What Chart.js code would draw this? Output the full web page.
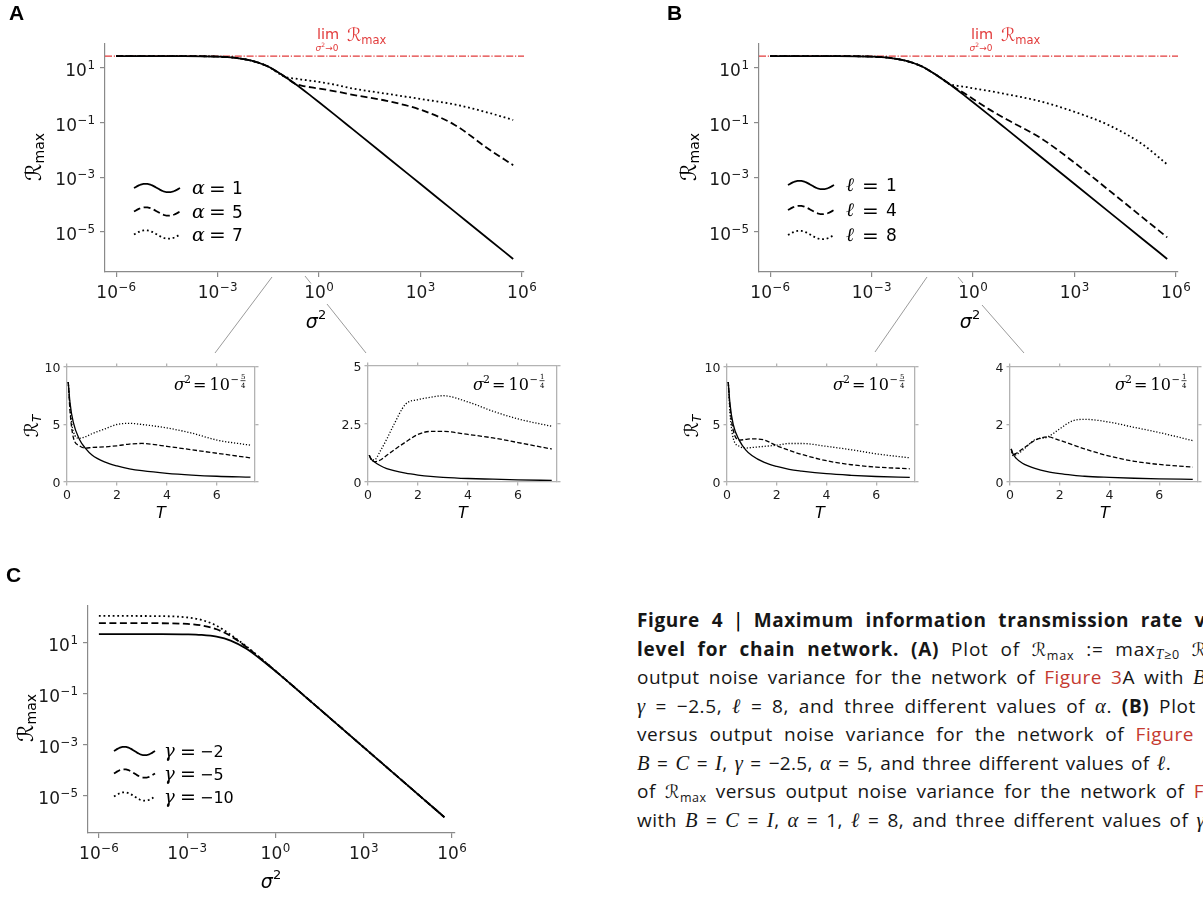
<!DOCTYPE html>
<html>
<head>
<meta charset="utf-8">
<script src="https://cdn.jsdelivr.net/npm/chart.js@4.4.1/dist/chart.umd.min.js"></script>
<style>
  html, body { margin: 0; padding: 0; background: #fff; }
  body { width: 1203px; height: 897px; overflow: hidden; position: relative; }
  canvas.layer { position: absolute; left: 0; top: 0; }
  #cap { position: absolute; left: 637px; top: 606px; font-family: "Open Sans", sans-serif; font-size: 19px; color: #161616; }
  #cap .row { height: 28.55px; line-height: 28.55px; white-space: nowrap; }
  #cap .ln { display: inline-block; white-space: nowrap; }
  #cap b { font-weight: 700; }
  #cap .r { color: #c53a30; }
  #cap i, #cap .g { font-family: "Liberation Serif", serif; font-style: italic; font-size: 1.08em; }
  #cap .m { font-family: "DejaVu Sans", sans-serif; font-size: 0.95em; }
  #cap sub { font-size: 0.66em; line-height: 0; vertical-align: -0.28em; }
  #cap .vb { font-weight: 400; color: #000; font-family: "DejaVu Sans", sans-serif; }
</style>
</head>
<body>
<div id="cap">
  <div class="row"><span class="ln" data-end="1206"><b>Figure 4</b> <span class="vb">|</span> <b>Maximum information transmission rate v</b></span></div>
  <div class="row"><span class="ln" data-end="1207"><b>level for chain network. (A)</b> Plot of <span class="m">ℛ</span><sub>max</sub> := max<sub><i>T</i>≥0</sub> <span class="m">ℛ</span></span></div>
  <div class="row"><span class="ln" data-end="1206">output noise variance for the network of <span class="r">Figure 3</span>A with <i>B</i></span></div>
  <div class="row"><span class="ln" data-end="1196"><span class="g">γ</span> = −2.5, <span class="g">ℓ</span> = 8, and three different values of <span class="g">α</span>. <b>(B)</b> Plot</span></div>
  <div class="row"><span class="ln" data-end="1194">versus output noise variance for the network of <span class="r">Figure</span></span></div>
  <div class="row"><span class="ln" data-end="1171"><i>B</i> = <i>C</i> = <i>I</i>, <span class="g">γ</span> = −2.5, <span class="g">α</span> = 5, and three different values of <span class="g">ℓ</span>.</span></div>
  <div class="row"><span class="ln" data-end="1204">of <span class="m">ℛ</span><sub>max</sub> versus output noise variance for the network of <span class="r">F</span></span></div>
  <div class="row"><span class="ln" data-end="1205">with <i>B</i> = <i>C</i> = <i>I</i>, <span class="g">α</span> = 1, <span class="g">ℓ</span> = 8, and three different values of <span class="g">γ</span></span></div>
</div>
<script>
const W = 1203, H = 897;

// ---- panel A: R_max vs sigma^2, alpha = 1, 5, 7 ----
const sigmaA = [1e-6, 1e-4, 1e-3, 3e-3, 1e-2, 3e-2, 0.1, 0.2, 0.3, 0.6, 1, 3, 10, 100, 1e3, 1e4, 1e5, 5.5e5];
const rmaxAlpha1 = [27.5, 27.4, 26.2, 24.0, 18.6, 11.6, 4.73, 2.58, 1.79, 0.92, 0.561, 0.19, 0.0572, 5.73e-3, 5.73e-4, 5.73e-5, 5.73e-6, 1.04e-6];
const rmaxAlpha5 = [27.5, 27.4, 26.2, 24.0, 18.6, 11.6, 4.73, 2.62, 2.3, 1.95, 1.78, 1.41, 1.05, 0.63, 0.30, 0.085, 0.0112, 2.8e-3];
const rmaxAlpha7 = [27.5, 27.4, 26.2, 24.0, 18.6, 11.6, 4.73, 4.1, 3.8, 3.4, 3.1, 2.45, 1.78, 1.15, 0.74, 0.47, 0.234, 0.126];
const limA = 27.5;

// ---- panel B: ell = 1, 4, 8 ----
const sigmaB = [1e-6, 1e-4, 1e-3, 3e-3, 1e-2, 3e-2, 0.1, 0.2, 0.3, 0.6, 1, 3, 10, 100, 1e3, 1e4, 1e5, 5.5e5];
const rmaxEll1 = [27.5, 27.4, 26.2, 24.0, 18.6, 11.6, 4.73, 2.58, 1.79, 0.92, 0.561, 0.19, 0.0572, 5.73e-3, 5.73e-4, 5.73e-5, 5.73e-6, 1.04e-6];
const rmaxEll4 = [27.5, 27.4, 26.2, 24.0, 18.6, 11.6, 4.73, 2.62, 1.87, 1.12, 0.74, 0.308, 0.131, 0.0274, 3.45e-3, 3.53e-4, 3.53e-5, 6.4e-6];
const rmaxEll8 = [27.5, 27.4, 26.2, 24.0, 18.6, 11.6, 4.73, 2.6, 2.3, 2.05, 1.82, 1.45, 1.1, 0.6, 0.25, 0.083, 0.0166, 3.0e-3];
const limB = 27.5;

// ---- panel C: gamma = -2, -5, -10 ----
const sigmaC = [1e-6, 1e-4, 1e-3, 3e-3, 1e-2, 3e-2, 0.1, 0.3, 1, 10, 100, 1e3, 1e4, 1e5, 5.5e5];
const rmaxGamma2 = [22.4, 22.3, 21.8, 20.7, 17.6, 12.4, 6.07, 2.42, 0.785, 0.0809, 8.11e-3, 8.11e-4, 8.11e-5, 8.11e-6, 1.475e-6];
const rmaxGamma5 = [60, 59.6, 55.9, 49.1, 34.5, 18.7, 7.14, 2.59, 0.80, 0.081, 8.11e-3, 8.11e-4, 8.11e-5, 8.11e-6, 1.475e-6];
const rmaxGamma10 = [115, 113.4, 100.7, 80.7, 47.5, 21.0, 7.56, 2.64, 0.805, 0.081, 8.11e-3, 8.11e-4, 8.11e-5, 8.11e-6, 1.475e-6];

const logXTicks = [1e-6, 1e-3, 1, 1e3, 1e6];
const logYTicks = [1e1, 1e-1, 1e-3, 1e-5];

// ---- insets: R_T vs T ----
const tInset = [0.05, 0.12, 0.25, 0.5, 0.75, 1, 1.5, 2, 2.5, 3, 4, 5, 6, 7.35];
const a1Solid = [8.7, 6.9, 5.2, 3.7, 2.9, 2.35, 1.75, 1.4, 1.15, 0.98, 0.75, 0.6, 0.5, 0.43];
const a1Dash  = [8.7, 6.2, 3.9, 3.15, 2.95, 3.0, 3.05, 3.15, 3.3, 3.35, 3.1, 2.8, 2.5, 2.1];
const a1Dot   = [8.7, 6.5, 4.4, 3.8, 3.95, 4.2, 4.6, 5.0, 5.1, 5.0, 4.7, 4.25, 3.65, 3.2];
const a2Solid = [1.15, 1.0, 0.87, 0.7, 0.58, 0.5, 0.38, 0.3, 0.24, 0.2, 0.15, 0.12, 0.09, 0.07];
const a2Dash  = [1.15, 0.98, 0.88, 0.95, 1.15, 1.35, 1.72, 2.05, 2.18, 2.18, 2.05, 1.9, 1.7, 1.42];
const a2Dot   = [1.15, 1.0, 0.95, 1.35, 1.85, 2.4, 3.35, 3.55, 3.65, 3.72, 3.45, 3.05, 2.72, 2.4];
const b1Solid = [8.7, 6.8, 5.0, 3.6, 2.8, 2.3, 1.7, 1.35, 1.1, 0.95, 0.72, 0.58, 0.48, 0.4];
const b1Dash  = [8.7, 6.5, 4.5, 3.65, 3.7, 3.75, 3.65, 3.15, 2.75, 2.4, 1.85, 1.5, 1.3, 1.15];
const b1Dot   = [8.7, 6.0, 3.8, 3.1, 2.95, 3.0, 3.1, 3.2, 3.35, 3.35, 3.1, 2.8, 2.45, 2.1];
const b2Solid = [1.15, 0.98, 0.82, 0.65, 0.55, 0.47, 0.36, 0.29, 0.24, 0.2, 0.16, 0.13, 0.11, 0.09];
const b2Dash  = [1.15, 0.95, 1.0, 1.15, 1.3, 1.45, 1.57, 1.45, 1.3, 1.15, 0.9, 0.72, 0.61, 0.52];
const b2Dot   = [1.15, 0.92, 0.95, 1.1, 1.3, 1.47, 1.56, 1.85, 2.12, 2.18, 2.08, 1.9, 1.72, 1.44];
const insetXTicks = [0, 2, 4, 6];
const yTicks10 = [0, 5, 10];
const yTicks5 = [0, 2.5, 5];
const yTicks4 = [0, 2, 4];

// ---- styles ----
const RED = '#e23b3b', SPINE = '#8a8a8a', FRAME = '#b3b3b3', GREY = '#8f8f8f', INK = '#1a1a1a';
const SANS = '"DejaVu Sans"', SERIF = '"DejaVu Serif"';
const MAIN = { solid: [], dash: [7, 3.5], dot: [1.8, 2.8], w: 1.8 };
const SMALL = { solid: [], dash: [4.5, 2.2], dot: [1.2, 1.8], w: 1.3 };
const TK = 5, TKI = 3.5;

const pts = (xs, ys) => xs.map((x, i) => ({ x, y: ys[i] }));
const fix = v => s => { s.ticks = v.map(value => ({ value })); };

function newLayer() {
  const c = document.createElement('canvas');
  c.width = W; c.height = H; c.className = 'layer';
  document.body.appendChild(c);
  return c;
}

function drawLabel(ctx, lab, x, y, align, size) {
  ctx.font = size + 'px ' + SANS;
  const wb = ctx.measureText(lab.b).width;
  const es = size * 0.7;
  let we = 0;
  if (lab.e) { ctx.font = es + 'px ' + SANS; we = ctx.measureText(lab.e).width + 0.5; }
  const x0 = align === 'center' ? x - (wb + we) / 2 : x - wb - we;
  ctx.font = size + 'px ' + SANS;
  ctx.fillText(lab.b, x0, y);
  if (lab.e) { ctx.font = es + 'px ' + SANS; ctx.fillText(lab.e, x0 + wb + 0.5, y - size * 0.4); }
}

const powFmt = v => ({ b: '10', e: String(Math.round(Math.log10(v))).replace('-', '−') });
const numFmt = v => ({ b: String(v) });

// tick labels drawn from the chart's own scales
function tickText(cfg) {
  return {
    id: 'tickText',
    afterDraw(chart) {
      const ctx = chart.ctx, sx = chart.scales.x, sy = chart.scales.y;
      ctx.save();
      ctx.fillStyle = INK; ctx.textBaseline = 'alphabetic'; ctx.textAlign = 'left';
      sx.ticks.forEach(t => drawLabel(ctx, cfg.fmt(t.value), sx.getPixelForValue(t.value), sx.top + cfg.xOff, 'center', cfg.size));
      sy.ticks.forEach(t => drawLabel(ctx, cfg.fmt(t.value), sy.right - cfg.yOff, sy.getPixelForValue(t.value) + cfg.yBase, 'right', cfg.size));
      ctx.restore();
    }
  };
}

function mainPanel(box, sets, lim) {
  const datasets = sets.map(s => ({
    data: pts(s.x, s.y), borderColor: '#000', borderWidth: MAIN.w, borderDash: MAIN[s.st],
    pointRadius: 0, cubicInterpolationMode: 'monotone', fill: false
  }));
  if (lim) datasets.push({
    data: [{ x: 10 ** box.x0, y: lim }, { x: 10 ** box.x1, y: lim }],
    borderColor: RED, borderWidth: 1.2, borderDash: [7, 1.8, 1.2, 1.8], pointRadius: 0, fill: false
  });
  const axis = (min, max, ticks, horiz) => ({
    type: 'logarithmic', min, max, afterBuildTicks: fix(ticks),
    afterFit: s => { if (horiz) s.height = TK; else s.width = TK; },
    ticks: { display: false },
    grid: { drawOnChartArea: false, drawTicks: true, tickLength: TK, color: SPINE, lineWidth: 1.2 },
    border: { display: true, color: SPINE, width: 1.2 }
  });
  return new Chart(newLayer(), {
    type: 'line',
    data: { datasets },
    options: {
      responsive: false, animation: false, devicePixelRatio: 1,
      layout: { padding: { left: box.l - TK, top: box.t, right: W - box.r, bottom: H - box.b - TK } },
      plugins: { legend: { display: false }, tooltip: { enabled: false } },
      scales: {
        x: axis(10 ** box.x0, 10 ** box.x1, logXTicks, true),
        y: axis(10 ** box.y0, 10 ** box.y1, logYTicks, false)
      }
    },
    plugins: [tickText({ fmt: powFmt, size: 17, xOff: 26, yOff: 10, yBase: 7.8 })]
  });
}

function insetPanel(box, sets, yTicks) {
  const datasets = sets.map(s => ({
    data: pts(tInset, s.y), borderColor: '#000', borderWidth: SMALL.w, borderDash: SMALL[s.st],
    pointRadius: 0, cubicInterpolationMode: 'monotone', fill: false, xAxisID: 'x', yAxisID: 'y'
  }));
  const axis = (pos, max, ticks) => {
    const horiz = pos === 'top' || pos === 'bottom';
    return {
      type: 'linear', axis: horiz ? 'x' : 'y', position: pos, display: true, min: 0, max,
      afterBuildTicks: fix(ticks),
      afterFit: s => { if (horiz) s.height = TKI; else s.width = TKI; },
      ticks: { display: false },
      grid: { drawOnChartArea: false, drawTicks: true, tickLength: TKI, color: FRAME, lineWidth: 1.3 },
      border: { display: true, color: FRAME, width: 1.3 }
    };
  };
  return new Chart(newLayer(), {
    type: 'line',
    data: { datasets },
    options: {
      responsive: false, animation: false, devicePixelRatio: 1,
      layout: { padding: { left: box.l - TKI, top: box.t - TKI, right: W - box.r - TKI, bottom: H - box.b - TKI } },
      plugins: { legend: { display: false }, tooltip: { enabled: false } },
      scales: {
        x: axis('bottom', box.xmax, insetXTicks),
        x2: axis('top', box.xmax, insetXTicks),
        y: axis('left', box.ymax, yTicks),
        y2: axis('right', box.ymax, yTicks)
      }
    },
    plugins: [tickText({ fmt: numFmt, size: 12.5, xOff: 16.5, yOff: 6.5, yBase: 4.5 })]
  });
}

// ---- charts ----
mainPanel({ l: 105, t: 44, r: 524, b: 272, x0: -6.33, x1: 6.06, y0: -6.46, y1: 1.88 }, [
  { x: sigmaA, y: rmaxAlpha1, st: 'solid' },
  { x: sigmaA, y: rmaxAlpha5, st: 'dash' },
  { x: sigmaA, y: rmaxAlpha7, st: 'dot' }
], limA);
mainPanel({ l: 759, t: 44, r: 1178, b: 272, x0: -6.33, x1: 6.06, y0: -6.46, y1: 1.88 }, [
  { x: sigmaB, y: rmaxEll1, st: 'solid' },
  { x: sigmaB, y: rmaxEll4, st: 'dash' },
  { x: sigmaB, y: rmaxEll8, st: 'dot' }
], limB);
mainPanel({ l: 88, t: 606, r: 455, b: 833, x0: -6.37, x1: 6.1, y0: -6.45, y1: 2.45 }, [
  { x: sigmaC, y: rmaxGamma2, st: 'solid' },
  { x: sigmaC, y: rmaxGamma5, st: 'dash' },
  { x: sigmaC, y: rmaxGamma10, st: 'dot' }
], null);

insetPanel({ l: 67, t: 367, r: 255, b: 482, xmax: 7.53, ymax: 10 },
  [{ y: a1Solid, st: 'solid' }, { y: a1Dash, st: 'dash' }, { y: a1Dot, st: 'dot' }], yTicks10);
insetPanel({ l: 368, t: 366, r: 557, b: 482, xmax: 7.56, ymax: 5 },
  [{ y: a2Solid, st: 'solid' }, { y: a2Dash, st: 'dash' }, { y: a2Dot, st: 'dot' }], yTicks5);
insetPanel({ l: 727, t: 367, r: 915, b: 482, xmax: 7.56, ymax: 10 },
  [{ y: b1Solid, st: 'solid' }, { y: b1Dash, st: 'dash' }, { y: b1Dot, st: 'dot' }], yTicks10);
insetPanel({ l: 1010, t: 367, r: 1198, b: 482, xmax: 7.56, ymax: 4 },
  [{ y: b2Solid, st: 'solid' }, { y: b2Dash, st: 'dash' }, { y: b2Dot, st: 'dot' }], yTicks4);

// ---- labels, legends, connectors ----
const deco = newLayer().getContext('2d');
deco.textBaseline = 'alphabetic';

function run(ctx, parts, x, y, align) {
  let w = 0;
  for (const p of parts) { ctx.font = p.f; p.w = ctx.measureText(p.t).width + (p.k || 0); w += p.w; }
  let cx = align === 'center' ? x - w / 2 : align === 'right' ? x - w : x;
  for (const p of parts) {
    ctx.font = p.f; ctx.fillStyle = p.c || '#000';
    ctx.fillText(p.t, cx, y + (p.dy || 0));
    cx += p.w;
  }
  return w;
}
function rotated(ctx, parts, x, y) {
  ctx.save(); ctx.translate(x, y); ctx.rotate(-Math.PI / 2);
  run(ctx, parts, 0, 0, 'center');
  ctx.restore();
}
function seg(x1, y1, x2, y2) {
  deco.beginPath(); deco.moveTo(x1, y1); deco.lineTo(x2, y2); deco.stroke();
}
function wave(x0, x1, cy, dash, lw) {
  deco.save();
  deco.strokeStyle = '#000'; deco.lineWidth = lw; deco.setLineDash(dash);
  deco.beginPath();
  for (let i = 0; i <= 48; i++) {
    const t = i / 48, x = x0 + t * (x1 - x0), y = cy - 4.2 * Math.sin(2 * Math.PI * t);
    if (i) deco.lineTo(x, y); else deco.moveTo(x, y);
  }
  deco.stroke();
  deco.restore();
}
function legend(ix0, ix1, tx, rows, sym, vals, fs, eqDx, valDx) {
  const dashes = [MAIN.solid, MAIN.dash, MAIN.dot];
  rows.forEach((cy, i) => {
    wave(ix0, ix1, cy, dashes[i], MAIN.w);
    deco.fillStyle = '#000';
    deco.font = 'italic ' + (fs + 2) + 'px ' + SERIF; deco.fillText(sym, tx, cy + 6);
    deco.font = (fs + 3) + 'px ' + SANS; deco.fillText('=', tx + eqDx, cy + 6.5);
    deco.font = fs + 'px ' + SANS; deco.fillText(vals[i], tx + valDx, cy + 6);
  });
}
function limLabel(x) {
  run(deco, [{ t: 'lim', f: '14.5px ' + SANS, c: RED }], x, 39, 'left');
  run(deco, [
    { t: 'σ', f: 'italic 9px ' + SANS, c: RED },
    { t: '2', f: '6px ' + SANS, c: RED, dy: -4 },
    { t: '→0', f: '9px ' + SANS, c: RED }
  ], x + 10, 51, 'center');
  run(deco, [
    { t: 'ℛ', f: '18px ' + SANS, c: RED },
    { t: 'max', f: '11.5px ' + SANS, c: RED, dy: 3 }
  ], x + 30, 41, 'left');
}
function sigmaNote(right, num, den) {
  const y = 390;
  deco.fillStyle = '#000';
  deco.font = 'italic 16px ' + SERIF; deco.fillText('σ', right - 74, y);
  deco.font = '11px ' + SERIF; deco.fillText('2', right - 64, y - 7);
  deco.font = '16px ' + SERIF; deco.fillText('=', right - 55, y);
  deco.fillText('10', right - 38.5, y);
  deco.font = '10px ' + SERIF; deco.fillText('−', right - 17.5, y - 7);
  deco.font = '7px ' + SERIF;
  deco.fillText(num, right - 7, y - 11);
  deco.fillText(den, right - 7, y - 2.5);
  deco.fillRect(right - 7.5, y - 9.6, 5, 0.7);
}

// panel letters
deco.fillStyle = '#000';
deco.font = 'bold 21px "Liberation Sans"';
deco.fillText('A', 9, 20);
deco.fillText('B', 667, 20);
deco.fillText('C', 6, 582);

// zoom connectors
deco.strokeStyle = GREY; deco.lineWidth = 0.9;
seg(272, 277, 215, 353);
seg(305, 276, 311, 283.5); seg(327, 304, 366, 353);
seg(927, 277, 875, 352);
seg(958, 277, 963, 283); seg(982, 305, 1024, 353);

// axis titles
const rmaxParts = () => [{ t: 'ℛ', f: '22px ' + SANS }, { t: 'max', f: '14px ' + SANS, dy: 3 }];
rotated(deco, rmaxParts(), 41, 157);
rotated(deco, rmaxParts(), 696, 157);
rotated(deco, rmaxParts(), 33, 718);
const sigParts = () => [{ t: 'σ', f: 'italic 19px ' + SANS }, { t: '2', f: '13px ' + SANS, dy: -9 }];
run(deco, sigParts(), 316, 328, 'center');
run(deco, sigParts(), 970, 328, 'center');
run(deco, sigParts(), 271, 888, 'center');
[161, 463, 820, 1105].forEach(x => run(deco, [{ t: 'T', f: 'italic 16px ' + SANS }], x, 518, 'center'));
const rtParts = () => [{ t: 'ℛ', f: '19px ' + SANS }, { t: 'T', f: 'italic 12px ' + SANS, dy: 3 }];
rotated(deco, rtParts(), 38, 426);
rotated(deco, rtParts(), 698, 426);

// legends
legend(134, 180, 192, [188, 211.5, 234.5], 'α', ['1', '5', '7'], 17, 17, 40);
legend(788, 834, 846, [185, 210, 235], 'ℓ', ['1', '4', '8'], 17, 16, 40);
legend(114, 155, 164, [751, 773.5, 796.5], 'γ', ['−2', '−5', '−10'], 16, 16, 36);

// limit annotations
limLabel(317);
limLabel(971);

// inset annotations
sigmaNote(248, '5', '4');
sigmaNote(547, '1', '4');
sigmaNote(907, '5', '4');
sigmaNote(1189, '1', '4');

// caption: fit each line to the measured right edge
document.querySelectorAll('#cap .ln').forEach(el => {
  const target = +el.dataset.end - 637;
  const txt = el.textContent;
  const spaces = (txt.match(/ /g) || []).length || 1;
  let nat = el.getBoundingClientRect().width;
  el.style.letterSpacing = (0.4 * (target - nat) / txt.length) + 'px';
  nat = el.getBoundingClientRect().width;
  el.style.wordSpacing = ((target - nat) / spaces) + 'px';
});
</script>
</body>
</html>
